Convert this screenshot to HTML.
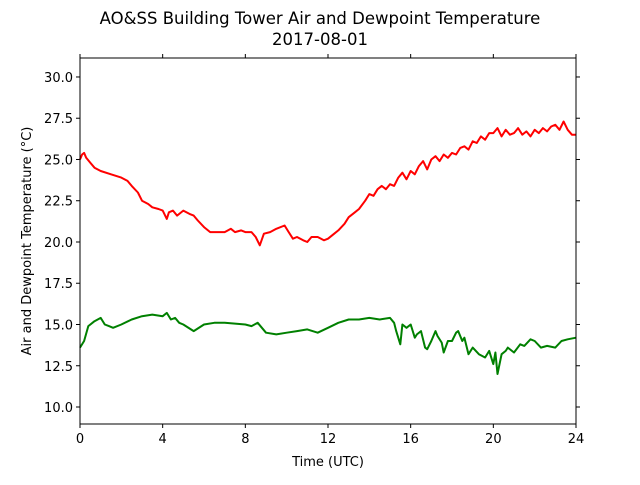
<!DOCTYPE html>
<html><head><meta charset="utf-8"><style>
body{margin:0;background:#fff;}
svg text{font-family:"DejaVu Sans","Liberation Sans",sans-serif;fill:#000;}
</style></head><body>
<svg id="chart" width="640" height="480">
<text x="320" y="24" font-size="16.5" text-anchor="middle">AO&amp;SS Building Tower Air and Dewpoint Temperature</text>
<text x="320" y="45" font-size="16.5" text-anchor="middle">2017-08-01</text>
<g id="ticks"></g>
<g id="series"></g>
<rect x="80" y="58" width="496" height="366" fill="none" stroke="#000" stroke-width="1"/>
<text x="328" y="466" font-size="13" text-anchor="middle">Time (UTC)</text>
<text transform="translate(31,241) rotate(-90)" font-size="13" text-anchor="middle">Air and Dewpoint Temperature (°C)</text>
</svg>
<script>
const xTicks=[0,4,8,12,16,20,24];
const yTicks=[10.0,12.5,15.0,17.5,20.0,22.5,25.0,27.5,30.0];
const airTime=[0,0.1,0.2,0.3,0.5,0.7,1,1.5,2,2.3,2.5,2.8,3,3.3,3.5,3.8,4,4.2,4.3,4.5,4.7,5,5.3,5.5,5.7,6,6.3,6.5,7,7.3,7.5,7.8,8,8.3,8.5,8.7,8.9,9.2,9.5,9.9,10.1,10.3,10.5,10.8,11,11.2,11.5,11.8,12,12.3,12.5,12.8,13,13.3,13.5,13.8,14,14.2,14.4,14.6,14.8,15,15.2,15.4,15.6,15.8,16,16.2,16.4,16.6,16.8,17,17.2,17.4,17.6,17.8,18,18.2,18.4,18.6,18.8,19,19.2,19.4,19.6,19.8,20,20.2,20.4,20.6,20.8,21,21.2,21.4,21.6,21.8,22,22.2,22.4,22.6,22.8,23,23.2,23.4,23.6,23.8,24];
const airTemp=[25.0,25.3,25.4,25.1,24.8,24.5,24.3,24.1,23.9,23.7,23.4,23.0,22.5,22.3,22.1,22.0,21.9,21.4,21.8,21.9,21.6,21.9,21.7,21.6,21.3,20.9,20.6,20.6,20.6,20.8,20.6,20.7,20.6,20.6,20.3,19.8,20.5,20.6,20.8,21.0,20.6,20.2,20.3,20.1,20.0,20.3,20.3,20.1,20.2,20.5,20.7,21.1,21.5,21.8,22.0,22.5,22.9,22.8,23.2,23.4,23.2,23.5,23.4,23.9,24.2,23.8,24.3,24.1,24.6,24.9,24.4,25.0,25.2,24.9,25.3,25.1,25.4,25.3,25.7,25.8,25.6,26.1,26.0,26.4,26.2,26.6,26.6,26.9,26.4,26.8,26.5,26.6,26.9,26.5,26.7,26.4,26.8,26.6,26.9,26.7,27.0,27.1,26.8,27.3,26.8,26.5,26.5];
const dewTime=[0,0.2,0.4,0.7,1,1.2,1.4,1.6,2,2.5,3,3.5,4,4.2,4.4,4.6,4.8,5,5.5,6,6.5,7,8,8.3,8.6,9,9.5,10,10.5,11,11.5,12,12.5,13,13.5,14,14.5,15,15.2,15.3,15.5,15.6,15.8,16,16.2,16.3,16.5,16.7,16.8,17,17.2,17.3,17.5,17.6,17.8,18,18.2,18.3,18.5,18.6,18.8,19,19.3,19.6,19.8,20,20.1,20.2,20.4,20.6,20.7,21,21.3,21.5,21.8,22,22.3,22.6,23,23.3,23.6,24];
const dewTemp=[13.6,14.0,14.9,15.2,15.4,15.0,14.9,14.8,15.0,15.3,15.5,15.6,15.5,15.7,15.3,15.4,15.1,15.0,14.6,15.0,15.1,15.1,15.0,14.9,15.1,14.5,14.4,14.5,14.6,14.7,14.5,14.8,15.1,15.3,15.3,15.4,15.3,15.4,15.1,14.6,13.8,15.0,14.8,15.0,14.2,14.4,14.6,13.6,13.5,14.0,14.6,14.3,13.9,13.3,14.0,14.0,14.5,14.6,14.0,14.2,13.2,13.6,13.2,13.0,13.4,12.6,13.3,12.0,13.2,13.4,13.6,13.3,13.8,13.7,14.1,14.0,13.6,13.7,13.6,14.0,14.1,14.2];
const X0=80,X1=576,Y0=424,Y1=58,TMIN=8.97,TMAX=31.15;
const xs=t=>X0+(t/24)*(X1-X0);
const ys=v=>Y0-(v-TMIN)/(TMAX-TMIN)*(Y0-Y1);
const NS="http://www.w3.org/2000/svg";
const tg=document.getElementById('ticks'),sg=document.getElementById('series');
function mk(tag,attrs,parent){const e=document.createElementNS(NS,tag);for(const k in attrs)e.setAttribute(k,attrs[k]);parent.appendChild(e);return e;}
xTicks.forEach(t=>{
  const x=xs(t);
  const a=mk('line',{x1:x,x2:x,y1:Y0,y2:Y0+4,stroke:'#000'},tg);
  
  
  const b=mk('line',{x1:x,x2:x,y1:Y1,y2:Y1-4,stroke:'#000'},tg);
  
  
  const l=mk('text',{x:x,y:Y0+19,'font-size':13,'text-anchor':'middle'},tg);
  l.textContent=t;
  
  
});
yTicks.forEach(v=>{
  const y=ys(v);
  const a=mk('line',{x1:X0-4,x2:X0,y1:y,y2:y,stroke:'#000'},tg);
  
  
  const b=mk('line',{x1:X1,x2:X1+4,y1:y,y2:y,stroke:'#000'},tg);
  
  
  const l=mk('text',{x:X0-7,y:y+5,'font-size':13,'text-anchor':'end'},tg);
  l.textContent=v.toFixed(1);
  
  
});
function line(ts,vs,color,name){
  const d=ts.map((t,i)=>(i?'L':'M')+xs(t).toFixed(1)+','+ys(vs[i]).toFixed(1)).join(' ');
  const p=mk('path',{d:d,fill:'none',stroke:color,'stroke-width':2,'stroke-linejoin':'round'},sg);
  
  
}
line(airTime,airTemp,'#ff0000','air-temperature-line');
line(dewTime,dewTemp,'#008000','dewpoint-temperature-line');
</script>
</body></html>
